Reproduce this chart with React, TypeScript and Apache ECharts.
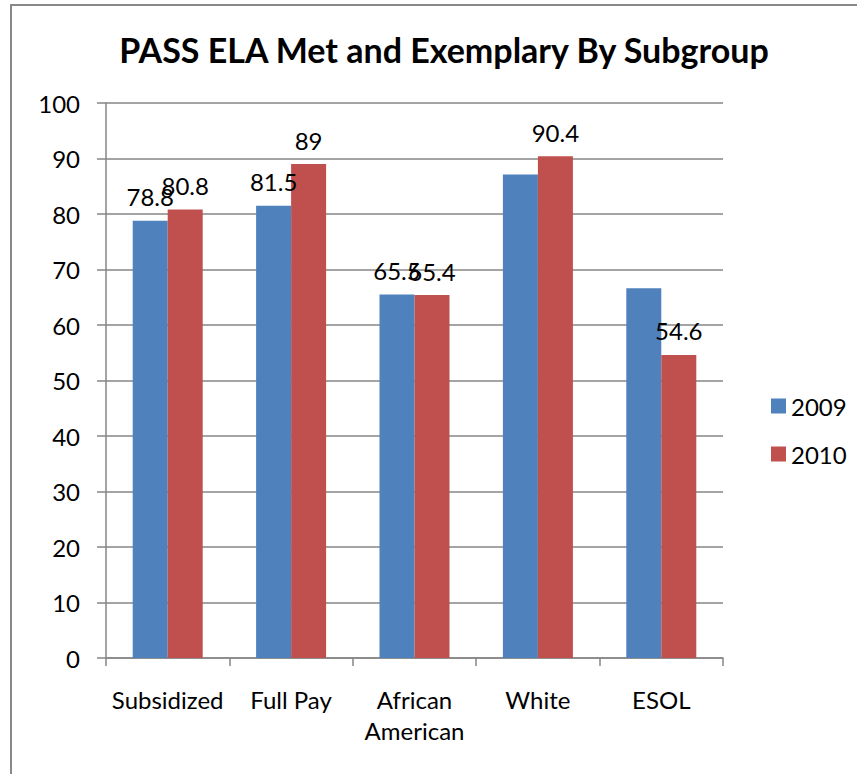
import React, { useEffect, useRef } from "react";
import * as echarts from "echarts";

const categories = ["Subsidized", "Full Pay", "African\nAmerican", "White", "ESOL"];
const values2009 = [78.8, 81.5, 65.5, 87.1, 66.6];
const values2010 = [80.8, 89, 65.4, 90.4, 54.6];
const labels2009 = [true, true, true, false, false];
const labels2010 = [true, true, true, true, true];
const seriesNames = ["2009", "2010"];
const yTicks = { min: 0, max: 100, interval: 10 };

const FONT = "Lato, 'Open Sans', sans-serif";

export default function App() {
  const ref = useRef<HTMLDivElement>(null);
  useEffect(() => {
    if (!ref.current) return;
    const chart = echarts.init(ref.current, undefined, { renderer: "svg" });
    const mk = (vals: number[], shows: boolean[]) =>
      vals.map((v, i) => ({ value: v, label: { show: shows[i] } }));
    const labelStyle = {
      position: "top" as const,
      distance: 12,
      fontSize: 24,
      color: "#000",
      fontFamily: FONT,
    };
    chart.setOption({
      animation: false,
      backgroundColor: "#fff",
      textStyle: { fontFamily: FONT },
      title: {
        text: "PASS ELA Met and Exemplary By Subgroup",
        left: 439,
        top: 27,
        textAlign: "center",
        textStyle: { fontSize: 34, fontWeight: "bold", color: "#000", fontFamily: FONT },
      },
      legend: {
        orient: "vertical",
        left: 766,
        top: 389,
        itemWidth: 15,
        itemHeight: 15,
        itemGap: 24,
        icon: "rect",
        textStyle: { fontSize: 24, color: "#000", fontFamily: FONT },
        data: seriesNames,
      },
      grid: { left: 106, top: 103, right: 134, bottom: 116, containLabel: false },
      xAxis: {
        type: "category",
        data: categories,
        axisLine: { lineStyle: { color: "#868686", width: 1.5 } },
        axisTick: { show: true, length: 8, lineStyle: { color: "#868686", width: 1.5 } },
        axisLabel: { fontSize: 24, color: "#000", margin: 26, lineHeight: 31, fontFamily: FONT, interval: 0 },
      },
      yAxis: {
        type: "value",
        min: yTicks.min,
        max: yTicks.max,
        interval: yTicks.interval,
        axisLine: { show: true, lineStyle: { color: "#868686", width: 1.5 } },
        axisTick: { show: true, length: 9, lineStyle: { color: "#868686", width: 1.5 } },
        splitLine: { lineStyle: { color: "#868686", width: 1.5 } },
        axisLabel: { fontSize: 24, color: "#000", margin: 26, fontFamily: FONT },
      },
      series: [
        {
          name: seriesNames[0],
          type: "bar",
          data: mk(values2009, labels2009),
          barWidth: 35,
          barGap: "0%",
          itemStyle: { color: "#4F81BD" },
          label: labelStyle,
        },
        {
          name: seriesNames[1],
          type: "bar",
          data: mk(values2010, labels2010),
          barWidth: 35,
          barGap: "0%",
          itemStyle: { color: "#C0504D" },
          label: labelStyle,
        },
      ],
      graphic: [
        {
          type: "rect",
          shape: { x: 11, y: 5, width: 1000, height: 1000 },
          style: { fill: "none", stroke: "#888", lineWidth: 2 },
          silent: true,
          z: 100,
        },
      ],
    });
    return () => chart.dispose();
  }, []);
  return <div ref={ref} style={{ position: "fixed", left: 0, top: 0, width: 857, height: 774 }} />;
}
